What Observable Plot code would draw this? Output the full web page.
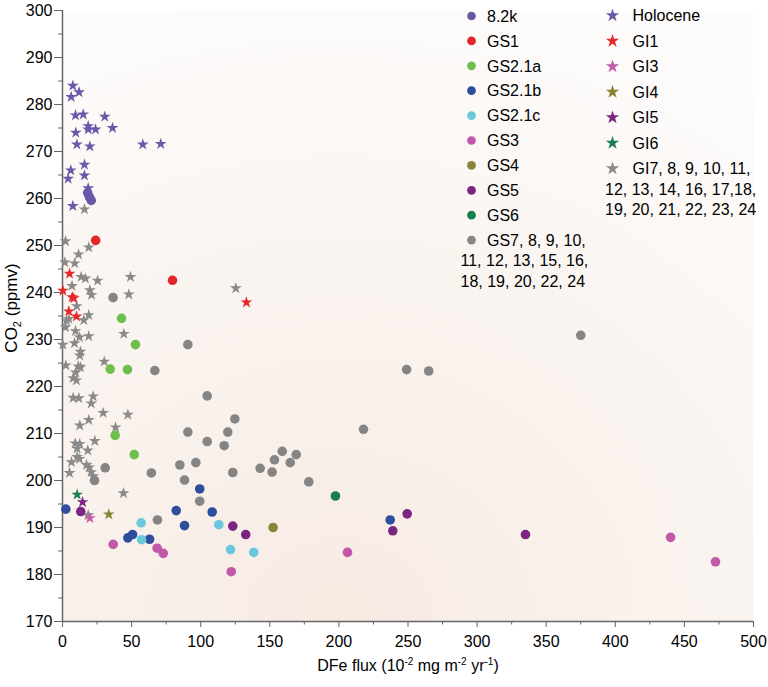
<!DOCTYPE html>
<html>
<head>
<meta charset="utf-8">
<script src="https://cdn.jsdelivr.net/npm/d3@7"></script>
<script src="https://cdn.jsdelivr.net/npm/@observablehq/plot@0.6"></script>
<style>
  body { margin: 0; background: #ffffff; }
  #wrap { position: relative; width: 768px; height: 687px; }
</style>
</head>
<body>
<div id="wrap"></div>
<script>
// ---------- Data (x = DFe flux, y = CO2) ----------
const holocene = [[7.5,284.0],[12,282.6],[6.3,281.6],[9.4,277.7],[15,277.9],[30.6,277.4],[18.6,275.4],[18.6,274.7],[23.9,274.7],[36.2,275.0],[9.6,274.0],[10.4,271.5],[19.8,271.1],[58.1,271.5],[71.1,271.6],[15.9,267.2],[6.0,266.0],[4.1,264.2],[15.9,264.9],[18.6,262.2],[7.5,258.4]];
const s82k = [[18.2,261.2],[19.5,260.3],[20.8,259.6]];
const gs1 = [[24.0,251.1],[79.6,242.6]];
const gi1 = [[5.1,244.0],[0.3,240.4],[7.0,239.0],[8.2,238.8],[4.6,236.0],[10.1,234.9],[133.1,237.9]];
const gs21a = [[42.7,234.5],[52.8,228.9],[34.5,223.7],[47.0,223.6],[38.1,209.6],[51.9,205.5]];
const gs21b = [[2.4,193.9],[47.3,187.8],[50.7,188.5],[63.0,187.5],[82.3,193.6],[88.3,190.4],[99.3,198.2],[108.3,193.3],[237.1,191.6]];
const gs21c = [[56.9,191.0],[57.2,187.4],[113.1,190.6],[121.6,185.3],[138.4,184.7]];
const gs3 = [[36.7,186.4],[68.5,185.6],[72.9,184.5],[122.1,180.6],[206.2,184.7],[440,187.9],[472.5,182.7]];
const gs4 = [[152.4,190.0]];
const gs5 = [[13.2,193.4],[123.2,190.3],[132.6,188.5],[239.0,189.3],[249.4,192.9],[335.0,188.5]];
const gs6 = [[197.5,196.7]];
const gs7 = [[36.6,238.9],[90.7,228.9],[66.8,223.4],[104.7,218.0],[124.7,213.1],[90.7,210.3],[104.7,208.3],[119.6,210.3],[117.0,207.4],[30.9,202.7],[64.3,201.6],[84.9,203.3],[96.5,203.8],[88.3,200.1],[123.2,201.7],[143.0,202.6],[23.2,200.0],[99.3,195.6],[68.7,191.6],[217.8,210.9],[159.0,206.2],[169.1,205.5],[153.4,204.4],[164.8,203.8],[151.7,201.8],[178.2,199.7],[249,223.6],[265,223.3],[375,230.9]];
const gi3 = [[19.8,192.0]];
const gi4 = [[33.5,192.8]];
const gi5 = [[14.5,195.4]];
const gi6 = [[10.6,197.0]];
const gi7 = [[15.9,257.7],[2.2,250.9],[19.0,249.6],[11.6,248.1],[1.7,246.4],[8.8,246.2],[13.5,243.3],[16.6,243.0],[25.4,242.5],[49.2,243.3],[125.4,240.9],[6.9,241.4],[19.8,240.5],[21.0,239.5],[48.0,239.6],[10.3,237.1],[2.9,234.0],[4.6,234.4],[15.4,234.1],[19.0,235.2],[2.2,232.6],[9.4,231.8],[12.3,230.5],[19.0,230.7],[44.4,231.2],[0.2,228.9],[8.7,229.2],[13.0,227.4],[12.5,226.6],[30.2,225.3],[2.4,224.5],[11.4,224.3],[13.0,224.1],[9.6,223.0],[7.7,221.8],[10.1,221.3],[7.7,217.6],[11.8,217.5],[22.2,217.9],[20.8,216.4],[29.4,214.4],[47.3,214.0],[19.0,212.9],[12.5,211.7],[38.4,211.3],[9.2,207.9],[12.5,207.8],[10.6,206.8],[23.4,208.4],[18.3,206.4],[6.5,203.9],[12.3,204.6],[10.6,205.0],[17.4,203.3],[19.3,202.8],[5.1,201.6],[20.8,201.8],[22.2,200.9],[44.1,197.3],[18.6,192.6]];

const xTicks = [0,50,100,150,200,250,300,350,400,450,500];
const yTicks = [170,180,190,200,210,220,230,240,250,260,270,280,290,300];

// legend entries (label lines, symbol, color)
const circleSeries = [
  {lines:["8.2k"], data:s82k, color:"#6a57a8"},
  {lines:["GS1"], data:gs1, color:"#e52629"},
  {lines:["GS2.1a"], data:gs21a, color:"#6dbf4b"},
  {lines:["GS2.1b"], data:gs21b, color:"#2d4d9d"},
  {lines:["GS2.1c"], data:gs21c, color:"#69c8dc"},
  {lines:["GS3"], data:gs3, color:"#c159a8"},
  {lines:["GS4"], data:gs4, color:"#878536"},
  {lines:["GS5"], data:gs5, color:"#7b2482"},
  {lines:["GS6"], data:gs6, color:"#15804b"},
  {lines:["GS7, 8, 9, 10,","11, 12, 13, 15, 16,","18, 19, 20, 22, 24"], data:gs7, color:"#858585"}
];
const starSeries = [
  {lines:["Holocene"], data:holocene, color:"#6b58a9"},
  {lines:["GI1"], data:gi1, color:"#e4292b"},
  {lines:["GI3"], data:gi3, color:"#c45bab"},
  {lines:["GI4"], data:gi4, color:"#858233"},
  {lines:["GI5"], data:gi5, color:"#7b2482"},
  {lines:["GI6"], data:gi6, color:"#1a8050"},
  {lines:["GI7, 8, 9, 10, 11,","12, 13, 14, 16, 17,18,","19, 20, 21, 22, 23, 24"], data:gi7, color:"#8a8a8a"}
];

const FONT = "'Liberation Sans', Arial, Helvetica, sans-serif";

const marks = [
  Plot.frame({fill: "url(#bgGrad)", stroke: null}),
  // minor ticks
  Plot.axisY({ticks: d3.range(175, 300, 10), tickSize: 4, text: null, stroke: "#666", label: null}),
  Plot.axisX({ticks: d3.range(25, 500, 50), tickSize: 3.5, text: null, stroke: "#666", label: null}),
  // major ticks
  Plot.axisY({ticks: yTicks, tickSize: 8, tickPadding: 2, fontSize: 16, stroke: "#666", fill: "#000", label: null}),
  Plot.axisX({ticks: xTicks, tickSize: 6, tickPadding: 8, fontSize: 16, stroke: "#666", fill: "#000", label: null}),
  Plot.ruleX([0], {stroke: "#666", strokeWidth: 1.5}),
  Plot.ruleY([170], {stroke: "#666", strokeWidth: 1.5}),
];
// stars (gray first), then circles
marks.push(Plot.dot(gi7, {x: d => d[0], y: d => d[1], symbol: "star", r: 3.7, fill: starSeries[6].color, stroke: null}));
marks.push(Plot.dot(gs7, {x: d => d[0], y: d => d[1], r: 4.8, fill: circleSeries[9].color, stroke: null}));
for (const s of starSeries.slice(0, 6)) {
  marks.push(Plot.dot(s.data, {x: d => d[0], y: d => d[1], symbol: "star", r: 3.7, fill: s.color, stroke: null}));
}
for (const s of circleSeries.slice(0, 9)) {
  marks.push(Plot.dot(s.data, {x: d => d[0], y: d => d[1], r: 4.8, fill: s.color, stroke: null}));
}

const chart = Plot.plot({
  width: 768,
  height: 687,
  marginLeft: 62,
  marginRight: 15,
  marginTop: 10,
  marginBottom: 66,
  x: {domain: [0, 500]},
  y: {domain: [170, 300]},
  style: {fontFamily: FONT, fontSize: "16px", background: "transparent", color: "#000"},
  marks
});

document.getElementById("wrap").appendChild(chart);

const svg = d3.select(chart);
const defs = svg.insert("defs", ":first-child");
const grad = defs.append("radialGradient").attr("id", "bgGrad")
  .attr("cx", 0.4).attr("cy", 1.0).attr("r", 1.05);
grad.append("stop").attr("offset", 0).attr("stop-color", "#f7ebe3");
grad.append("stop").attr("offset", 0.55).attr("stop-color", "#faf4f0");
grad.append("stop").attr("offset", 1).attr("stop-color", "#fdfcfb");

// axis titles
const yl = svg.append("text")
  .attr("transform", "translate(17,308) rotate(-90)")
  .attr("text-anchor", "middle")
  .attr("font-family", FONT).attr("font-size", 17).attr("fill", "#000");
yl.append("tspan").text("CO");
yl.append("tspan").attr("font-size", 11).attr("dy", 4).text("2");
yl.append("tspan").attr("dy", -4).text(" (ppmv)");

const xl = svg.append("text")
  .attr("x", 408).attr("y", 671)
  .attr("text-anchor", "middle")
  .attr("font-family", FONT).attr("font-size", 16).attr("fill", "#000");
const parts = [["DFe flux (10",0],["-2",1],[" mg m",0],["-2",1],[" yr",0],["-1",1],[")",0]];
let sup = false;
for (const [t, s] of parts) {
  const ts = xl.append("tspan").text(t);
  if (s && !sup) { ts.attr("font-size", 10).attr("dy", -6); sup = true; }
  else if (!s && sup) { ts.attr("dy", 6); sup = false; }
}

// legend
const lg = svg.append("g").attr("font-family", FONT).attr("font-size", 16)
  .attr("fill", "#000").attr("text-anchor", "start");
function legendColumn(series, symX, textX, contX, y0, step, symbolType, symSize) {
  series.forEach((s, i) => {
    const yy = y0 + i * step;
    lg.append("path")
      .attr("d", d3.symbol(symbolType, symSize)())
      .attr("transform", `translate(${symX},${yy})`)
      .attr("fill", s.color);
    s.lines.forEach((line, j) => {
      lg.append("text")
        .attr("text-anchor", "start")
        .attr("x", j === 0 ? textX : contX)
        .attr("y", yy + 5.7 + j * 20.5)
        .text(line);
    });
  });
}
legendColumn(circleSeries, 471.5, 487, 460.5, 16, 24.9, d3.symbolCircle, 60);
legendColumn(starSeries, 612.5, 632.5, 605, 15.5, 25.5, d3.symbolStar, 55);
</script>
</body>
</html>
